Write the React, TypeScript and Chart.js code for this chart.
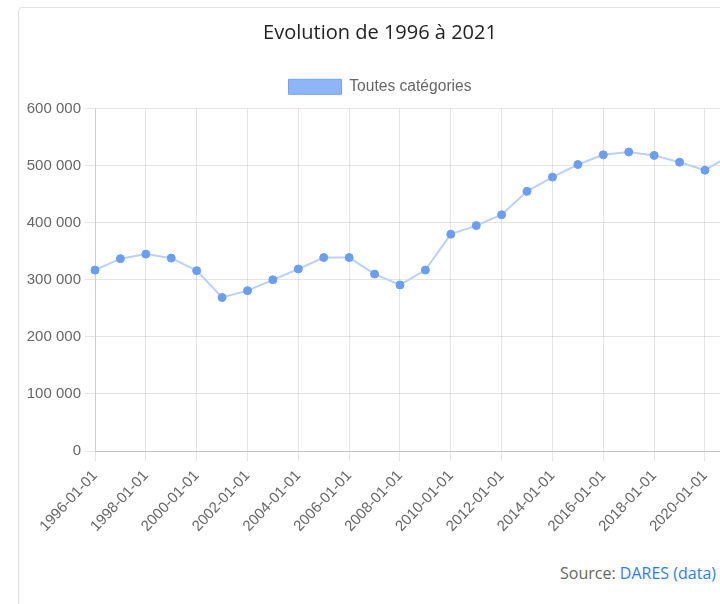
import React, { useEffect, useRef } from "react";
import { Chart, registerables } from "chart.js";

Chart.register(...registerables);

const title = "Evolution de 1996 à 2021";
const seriesName = "Toutes catégories";
const labels = [
  "1996-01-01", "1997-01-01", "1998-01-01", "1999-01-01", "2000-01-01",
  "2001-01-01", "2002-01-01", "2003-01-01", "2004-01-01", "2005-01-01",
  "2006-01-01", "2007-01-01", "2008-01-01", "2009-01-01", "2010-01-01",
  "2011-01-01", "2012-01-01", "2013-01-01", "2014-01-01", "2015-01-01",
  "2016-01-01", "2017-01-01", "2018-01-01", "2019-01-01", "2020-01-01",
  "2021-01-01",
];
const values = [
  317000, 337000, 345000, 338000, 316000,
  269000, 281000, 300000, 319000, 339000,
  339000, 310000, 291000, 317000, 380000,
  395000, 414000, 455000, 480000, 502000,
  519000, 524000, 518000, 506000, 492000,
  518000,
];
const yMin = 0;
const yMax = 600000;
const yStep = 100000;

const tickFont = { family: "'Liberation Sans', Arial, sans-serif", size: 15 };
const legendFont = { family: "'Liberation Sans', Arial, sans-serif", size: 15.6 };

export default function App() {
  const ref = useRef<HTMLCanvasElement | null>(null);

  useEffect(() => {
    if (!ref.current) return;
    const legendPad = {
      id: "legendPad",
      afterInit(chart: any) {
        const lg = chart.legend;
        if (lg && !lg.__patched) {
          const fit = lg.fit;
          lg.fit = function () {
            fit.call(this);
            this.height += 4;
          };
          lg.__patched = true;
        }
      },
    };
    const chart = new Chart(ref.current, {
      type: "line",
      data: {
        labels,
        datasets: [
          {
            label: seriesName,
            data: values,
            borderColor: "#b9d1f8",
            backgroundColor: "#8db5f7",
            borderWidth: 2,
            tension: 0,
            pointRadius: 4,
            pointHoverRadius: 4,
            pointBackgroundColor: "#6b9ef0",
            pointBorderColor: "#6b9ef0",
            pointBorderWidth: 1,
            fill: false,
          },
        ],
      },
      options: {
        responsive: false,
        animation: false,
        layout: { padding: 0 },
        plugins: {
          title: {
            display: true,
            text: title,
            color: "#222",
            font: { family: "'Open Sans', sans-serif", size: 20, weight: "normal" },
            padding: { top: 13, bottom: 24 },
          },
          legend: {
            display: true,
            labels: {
              boxWidth: 53,
              boxHeight: 15,
              color: "#666",
              font: legendFont,
              generateLabels: () => [
                {
                  text: seriesName,
                  fillStyle: "#8db5f7",
                  strokeStyle: "#74a3f2",
                  lineWidth: 1,
                  hidden: false,
                  datasetIndex: 0,
                  fontColor: "#666",
                } as any,
              ],
            },
          },
          tooltip: { enabled: false },
        },
        scales: {
          x: {
            grid: { color: "rgba(0,0,0,0.1)", tickLength: 10 },
            border: { color: "rgba(0,0,0,0.15)" },
            ticks: {
              color: "#666",
              font: tickFont,
              autoSkip: true,
              maxTicksLimit: 13,
              minRotation: 47,
              maxRotation: 47,
              padding: 6,
            },
            afterFit(scale: any) {
              scale.height = 90;
              scale.paddingLeft = 0;
              scale.paddingRight = 10.6;
            },
          },
          y: {
            min: yMin,
            max: yMax,
            grid: { color: "rgba(0,0,0,0.1)", tickLength: 10 },
            border: { color: "rgba(0,0,0,0.1)" },
            ticks: {
              stepSize: yStep,
              color: "#666",
              font: tickFont,
              padding: 4,
              callback: (v: any) =>
                Number(v).toLocaleString("en-US").replace(/,/g, " "),
            },
            afterFit(scale: any) {
              scale.width = 76;
            },
          },
        },
      },
      plugins: [legendPad],
    });
    return () => chart.destroy();
  }, []);

  return (
    <div
      style={{
        position: "fixed",
        left: 0,
        top: 0,
        width: 720,
        height: 604,
        overflow: "hidden",
        background: "#fff",
      }}
    >
      <div
        style={{
          position: "absolute",
          left: 18,
          top: 7,
          width: 760,
          height: 660,
          border: "1px solid #e2e2e2",
          borderRadius: 4,
          background: "#fff",
        }}
      >
        <canvas
          ref={ref}
          width={722}
          height={533}
          style={{ position: "absolute", left: 0, top: 0, width: 722, height: 533 }}
        />
        <div
          style={{
            position: "absolute",
            left: 0,
            top: 555,
            width: 697,
            textAlign: "right",
            fontFamily: "'Open Sans', sans-serif",
            fontSize: 16,
            color: "#666",
            lineHeight: "20px",
          }}
        >
          Source: <span style={{ color: "#2f7de8" }}>DARES</span>{" "}
          <span style={{ color: "#2f7de8" }}>(data)</span>
        </div>
      </div>
    </div>
  );
}
